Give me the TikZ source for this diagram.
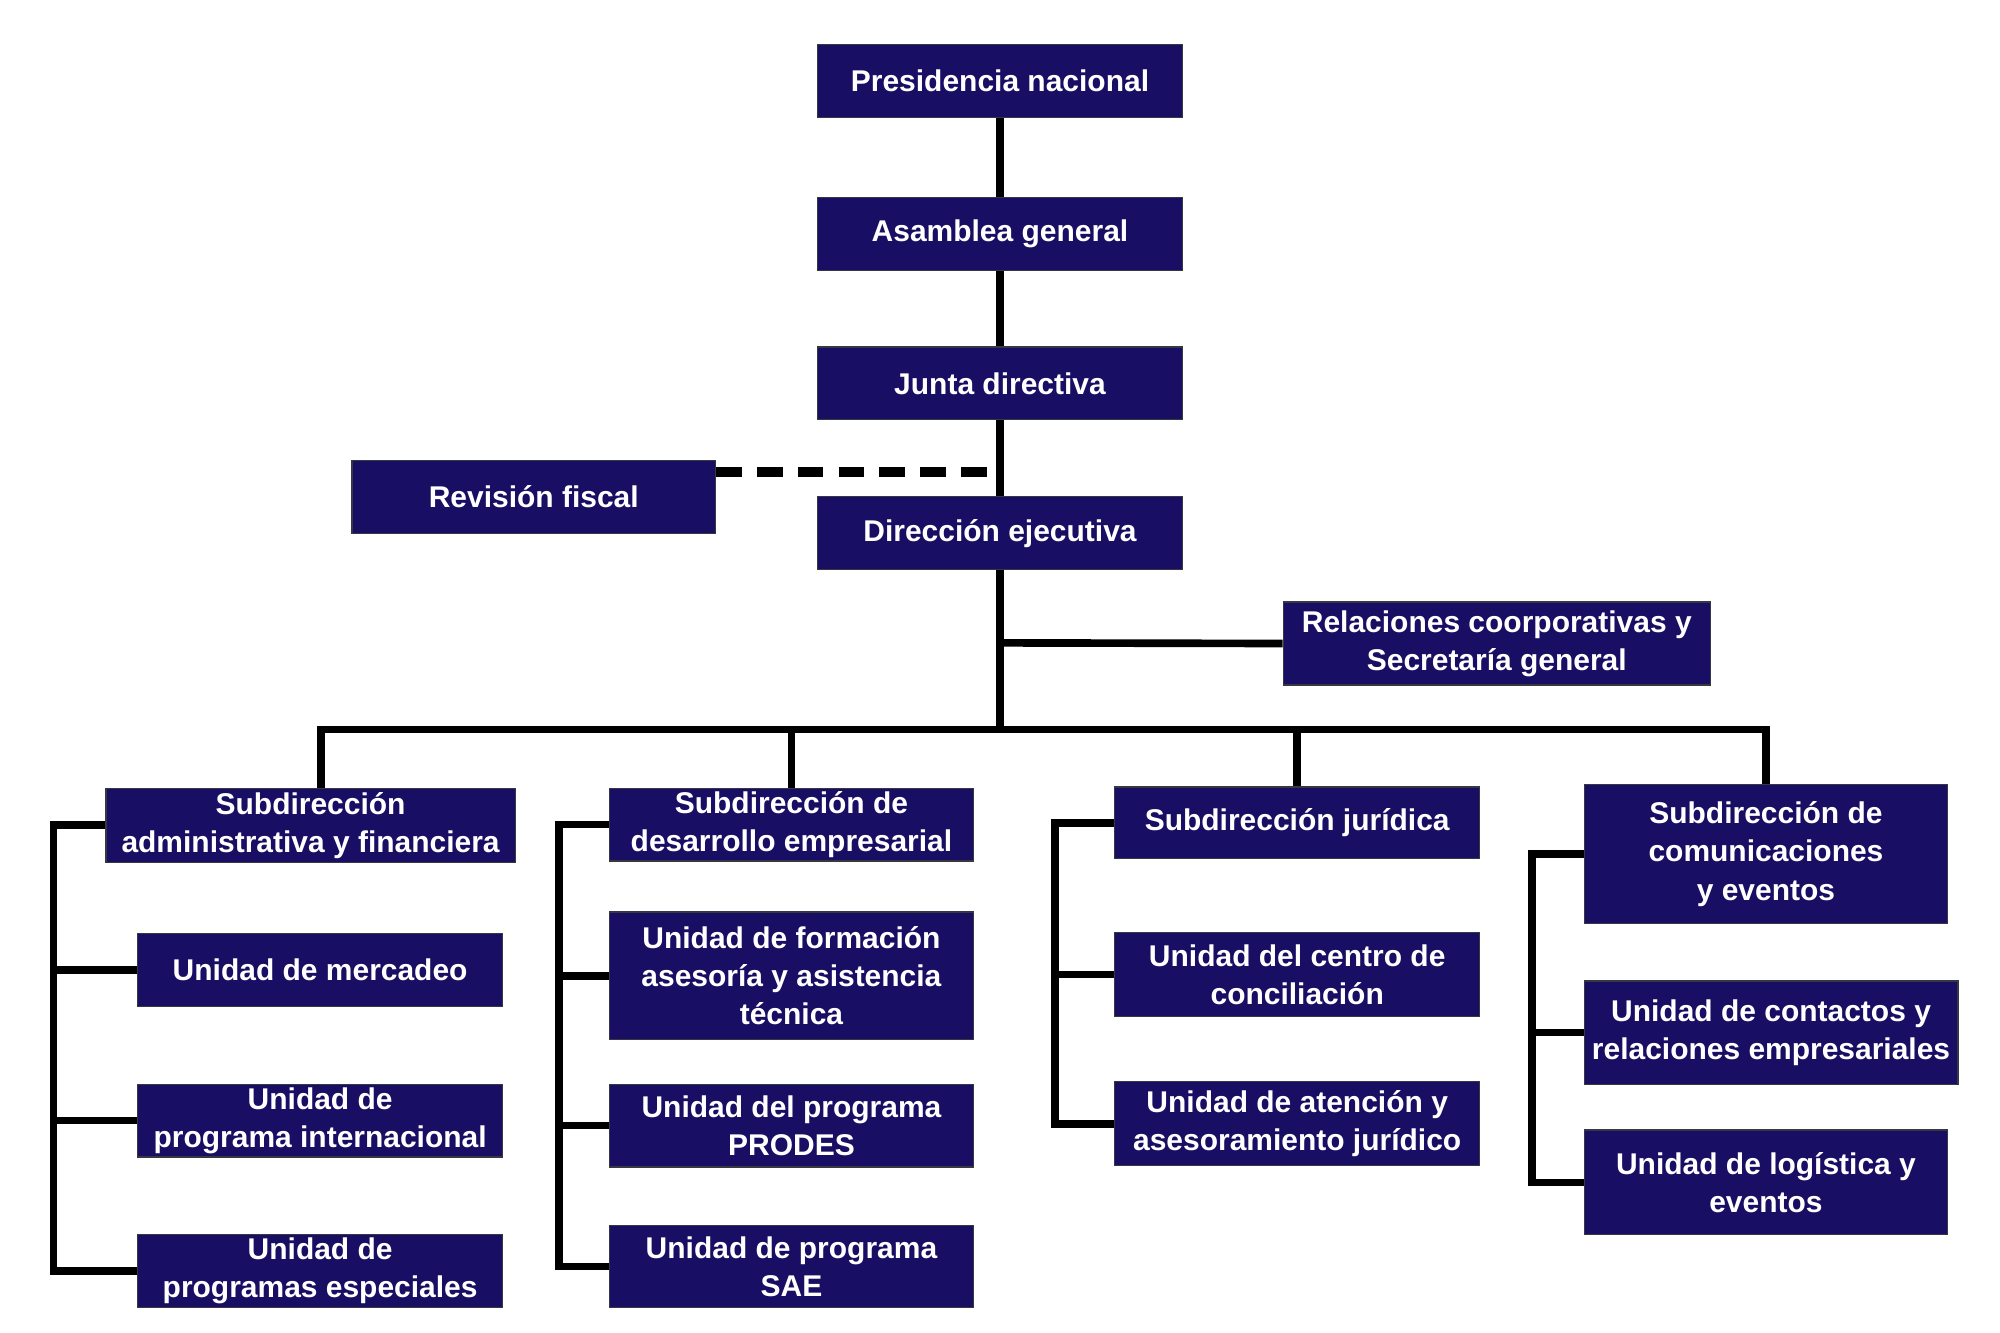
\documentclass[tikz,border=0pt]{standalone}
\usepackage{fontspec}
\setmainfont{Liberation Sans}
\usetikzlibrary{calc}
\definecolor{boxnavy}{RGB}{24,14,99}
\definecolor{boxedge}{RGB}{55,55,65}

\begin{document}
\begin{tikzpicture}[x=1pt,y=-1pt,
  unit/.style={draw=boxedge,line width=1pt,fill=boxnavy,text=white,
    font=\bfseries\fontsize{23.5}{30}\selectfont,align=center,inner sep=0pt,
    minimum width=286pt,minimum height=57pt},
  link/.style={line width=6pt,line join=miter},
  fiscal/.style={line width=8pt,dash pattern=on 20pt off 12pt}]
\useasboundingbox (0,0) rectangle (1568,1045);
% top of the chart
\node[unit] (pres) at (784,63.5) {Presidencia nacional};
\node[unit] (asam) at (784,183.5) {Asamblea general};
\node[unit] (junta) at (784,300.5) {Junta directiva};
\node[unit] (dir) at (784,418) {Dirección ejecutiva};
\node[unit,minimum width=285pt] (rev) at (418.5,389.5) {Revisión fiscal};
\node[unit,minimum width=335pt,minimum height=65pt] (rel) at (1173.5,504.5) {Relaciones coorporativas y\\Secretaría general};
% subdirecciones
\node[unit,minimum width=321pt,minimum height=58pt] (sub1) at (243.5,647) {Subdirección\\administrativa y financiera};
\node[unit,minimum width=285pt] (sub2) at (620.5,646.5) {Subdirección de\\desarrollo empresarial};
\node[unit,minimum height=56pt] (sub3) at (1017,645) {Subdirección jurídica};
\node[unit,minimum width=285pt,minimum height=109pt] (sub4) at (1384.5,669.5) {Subdirección de\\comunicaciones\\y eventos};
% unidades
\node[unit] (u11) at (251,760.5) {Unidad de mercadeo};
\node[unit] (u12) at (251,878.5) {Unidad de\\programa internacional};
\node[unit] (u13) at (251,996.5) {Unidad de\\programas especiales};
\node[unit,minimum width=285pt,minimum height=100pt] (u21) at (620.5,765) {Unidad de formación\\asesoría y asistencia\\técnica};
\node[unit,minimum width=285pt,minimum height=65pt] (u22) at (620.5,882.5) {Unidad del programa\\PRODES};
\node[unit,minimum width=285pt,minimum height=64pt] (u23) at (620.5,993) {Unidad de programa\\SAE};
\node[unit,minimum height=66pt] (u31) at (1017,764) {Unidad del centro de\\conciliación};
\node[unit,minimum height=66pt] (u32) at (1017,881) {Unidad de atención y\\asesoramiento jurídico};
\node[unit,minimum width=293pt,minimum height=81pt] (u41) at (1388.5,809.5) {Unidad de contactos y\\relaciones empresariales};
\node[unit,minimum width=285pt,minimum height=82pt] (u42) at (1384.5,927) {Unidad de logística y\\eventos};
% connectors
\coordinate (djoin) at (784,370);
\coordinate (rjoin) at (784,504);
\coordinate (bus) at (784,572);
\draw[link] (pres.south) -- (asam.north);
\draw[link] (asam.south) -- (junta.north);
\draw[link] (junta.south) -- (dir.north);
\draw[fiscal] (rev.east |- djoin) -- (djoin);
\draw[link] (dir.south) -- (bus);
\draw[link] (rjoin) -- (rel.west);
\draw[link] ([xshift=8pt]sub1.north) -- ([xshift=8pt]sub1.north |- bus) -- (sub4.north |- bus) -- (sub4.north);
\foreach \s in {sub2,sub3}
  \draw[link] (\s.north |- bus) -- (\s.north);
% brackets of each subdireccion
\foreach \s/\bx/\last/\mids in {sub1/42/u13/{u11,u12},sub2/438/u23/{u21,u22},sub3/827/u32/{u31},sub4/1201/u42/{u41}}{
  \coordinate (bx) at (\bx,0);
  \draw[link] (\s.west) -- (\s.west -| bx) -- (\last.west -| bx) -- (\last.west);
  \foreach \u in \mids
    \draw[link] (\u.west -| bx) -- (\u.west);
}
\end{tikzpicture}
\end{document}
